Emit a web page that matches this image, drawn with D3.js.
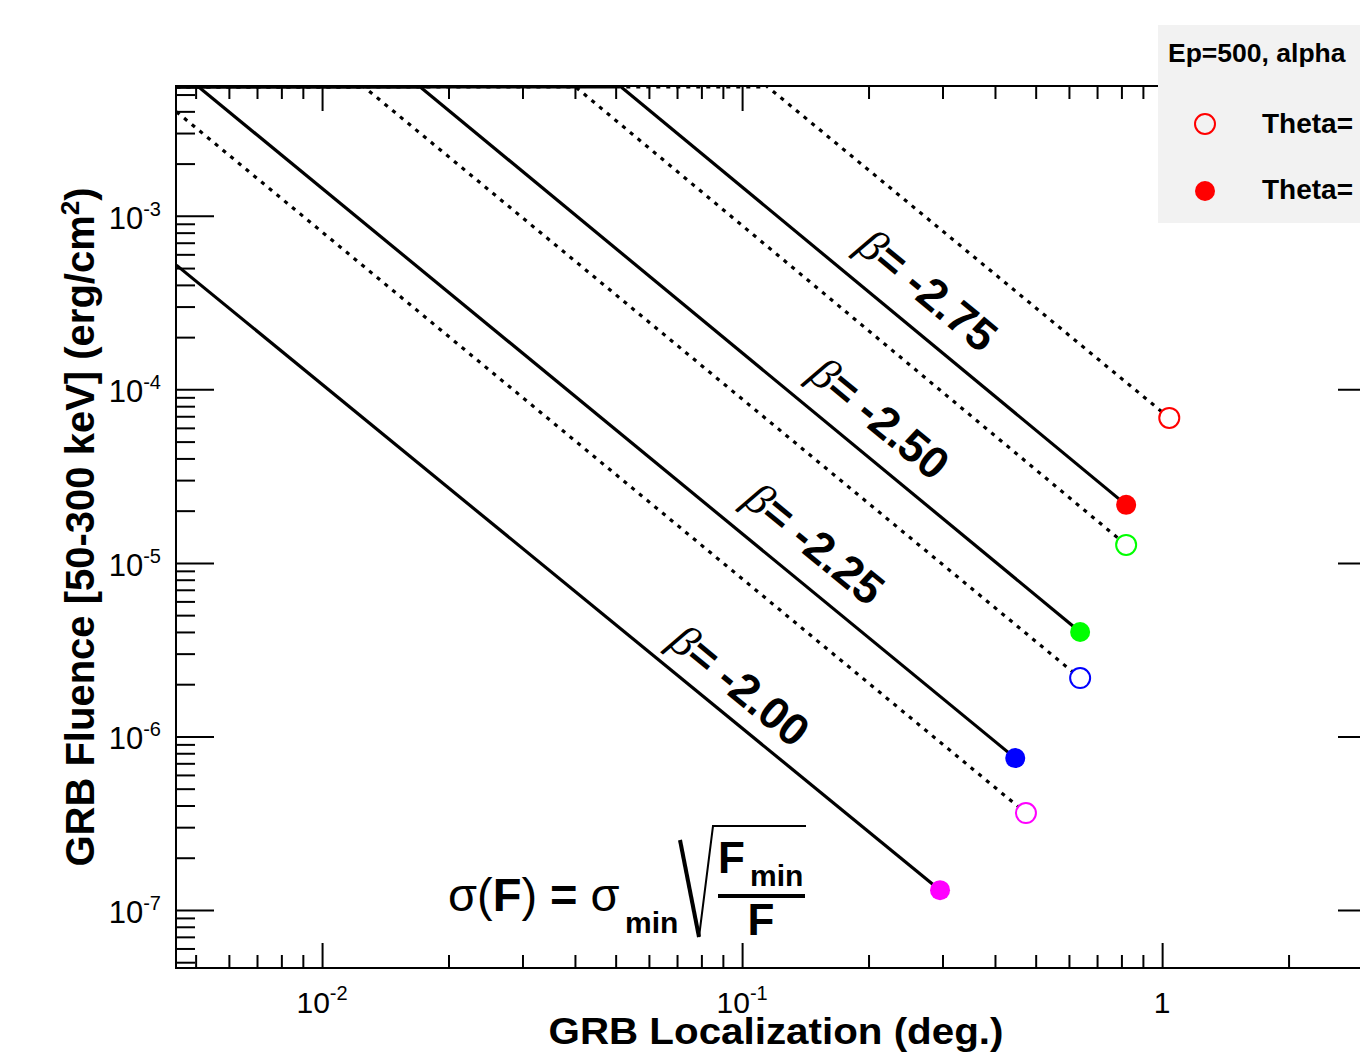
<!DOCTYPE html>
<html>
<head>
<meta charset="utf-8">
<script src="https://cdn.jsdelivr.net/npm/d3@7"></script>
<style>
body { margin: 0; background: #fff; }
svg { display: block; font-family: "Liberation Sans", Arial, Helvetica, sans-serif; }
</style>
</head>
<body>
<div class="container"></div>
<script>
// beta values, one colour per curve pair
var betaLabels = ['-2.00', '-2.25', '-2.50', '-2.75'];
var colours = ['#ff00ff', '#0000ff', '#00ff00', '#ff0000'];

// solid curves (filled markers): localization (deg) and fluence (erg/cm2), start -> end
var solidLoc = [[0.0045, 0.296], [0.0045, 0.447], [0.0045, 0.638], [0.0045, 0.821]];
var solidFlu = [[5.2e-4, 1.30e-7], [7.05e-3, 7.5e-7], [8.0e-2, 4.0e-6], [7.3e-1, 2.16e-5]];

// dotted curves (open markers)
var dottedLoc = [[0.0045, 0.474], [0.0045, 0.638], [0.0045, 0.821], [0.053, 1.04]];
var dottedFlu = [[3.98e-3, 3.62e-7], [4.32e-2, 2.17e-6], [4.53e-1, 1.27e-5], [2.6e-2, 6.85e-5]];

// where the beta labels sit
var labelLoc = [0.0989, 0.149, 0.213, 0.277];
var labelFlu = [1.98e-6, 1.30e-5, 6.85e-5, 3.75e-4];

// major ticks and their labels (base, exponent)
var xMajor = [0.01, 0.1, 1];
var xMajorLabels = [['10', '-2'], ['10', '-1'], ['1', '']];
var yMajor = [1e-7, 1e-6, 1e-5, 1e-4, 1e-3];
var yMajorLabels = [['10', '-7'], ['10', '-6'], ['10', '-5'], ['10', '-4'], ['10', '-3']];

var legendTitle = 'Ep=500, alpha';
var legendEntries = ['Theta=', 'Theta='];

var width = 1360, height = 1053;
var pLeft = 176, pRight = 1376, pTop = 86, pBottom = 968;

var x = d3.scaleLog().domain([0.00449, 3.23]).range([pLeft, pRight]);
var y = d3.scaleLog().domain([4.63e-8, 5.6e-3]).range([pBottom, pTop]);

var svg = d3.select('.container').append('svg')
    .attr('width', width).attr('height', height);

svg.append('defs').append('clipPath').attr('id', 'plot')
    .append('rect').attr('x', pLeft).attr('y', pTop)
    .attr('width', pRight - pLeft).attr('height', pBottom - pTop);

// minor ticks = every 1..9 multiple that is not a decade
function isMajor(list, v) {
    return list.some(function (m) { return Math.abs(v / m - 1) < 1e-6; });
}
var xMinor = x.ticks().filter(function (v) { return !isMajor(xMajor, v); });
var yMinor = y.ticks().filter(function (v) { return !isMajor(yMajor, v); });

function ticks(axis, pos, values, size) {
    svg.append('g')
        .attr('transform', pos)
        .call(axis.tickValues(values).tickSize(size).tickFormat(''))
        .call(function (g) { g.select('.domain').remove(); })
        .selectAll('line').attr('stroke', '#000').attr('stroke-width', 2);
}

ticks(d3.axisBottom(x), 'translate(0,' + pBottom + ')', xMinor, -13);
ticks(d3.axisBottom(x), 'translate(0,' + pBottom + ')', xMajor, -25);
ticks(d3.axisTop(x), 'translate(0,' + pTop + ')', xMinor, -13);
ticks(d3.axisTop(x), 'translate(0,' + pTop + ')', xMajor, -25);
ticks(d3.axisLeft(y), 'translate(' + pLeft + ',0)', yMinor, -19);
ticks(d3.axisLeft(y), 'translate(' + pLeft + ',0)', yMajor, -38);
ticks(d3.axisRight(y), 'translate(' + pRight + ',0)', yMajor, -38);

// frame
svg.append('rect')
    .attr('x', pLeft).attr('y', pTop)
    .attr('width', pRight - pLeft).attr('height', pBottom - pTop)
    .attr('fill', 'none').attr('stroke', '#000').attr('stroke-width', 2);

// tick labels
xMajor.forEach(function (v, i) {
    var t = svg.append('text')
        .attr('x', x(v)).attr('y', 1013)
        .attr('text-anchor', 'middle')
        .attr('font-size', 30);
    t.append('tspan').text(xMajorLabels[i][0]);
    if (xMajorLabels[i][1]) {
        t.append('tspan').attr('dy', -13).attr('font-size', 20).text(xMajorLabels[i][1]);
    }
});

yMajor.forEach(function (v, i) {
    var t = svg.append('text')
        .attr('x', 161).attr('y', y(v) + 13)
        .attr('text-anchor', 'end')
        .attr('font-size', 31);
    t.append('tspan').text(yMajorLabels[i][0]);
    t.append('tspan').attr('dy', -13).attr('font-size', 20).text(yMajorLabels[i][1]);
});

// axis titles
svg.append('text')
    .attr('x', 776).attr('y', 1044)
    .attr('text-anchor', 'middle')
    .attr('font-size', 36).attr('font-weight', 'bold')
    .attr('textLength', 455).attr('lengthAdjust', 'spacingAndGlyphs')
    .text('GRB Localization (deg.)');

var yt = svg.append('text')
    .attr('transform', 'translate(94,527) rotate(-90)')
    .attr('text-anchor', 'middle')
    .attr('font-size', 40).attr('font-weight', 'bold');
yt.append('tspan').text('GRB Fluence [50-300 keV] (erg/cm');
yt.append('tspan').attr('dy', -15).attr('font-size', 26).text('2');
yt.append('tspan').attr('dy', 15).text(')');

// curves
var plot = svg.append('g').attr('clip-path', 'url(#plot)');

function drawCurve(loc, flu, dash) {
    var x0 = x(loc[0]), y0 = y(flu[0]), x1 = x(loc[1]), y1 = y(flu[1]);
    plot.append('path')
        .datum([[loc[0], flu[0]], [loc[1], flu[1]]])
        .attr('d', d3.line().x(function (d) { return x(d[0]); }).y(function (d) { return y(d[1]); }))
        .attr('fill', 'none').attr('stroke', '#000').attr('stroke-width', 3.2)
        .attr('stroke-dasharray', dash);
    // part above the frame is pinned on the top edge
    if (y0 < pTop) {
        var xc = x0 + (pTop - y0) / (y1 - y0) * (x1 - x0);
        plot.append('line')
            .attr('x1', Math.max(x0, pLeft)).attr('x2', xc)
            .attr('y1', pTop + 1).attr('y2', pTop + 1)
            .attr('stroke', '#000').attr('stroke-width', 3)
            .attr('stroke-dasharray', dash);
    }
}

solidLoc.forEach(function (loc, i) { drawCurve(loc, solidFlu[i], null); });
dottedLoc.forEach(function (loc, i) { drawCurve(loc, dottedFlu[i], '4,6'); });

// end markers
dottedLoc.forEach(function (loc, i) {
    svg.append('circle')
        .attr('cx', x(loc[1])).attr('cy', y(dottedFlu[i][1])).attr('r', 10)
        .attr('fill', '#fff').attr('stroke', colours[i]).attr('stroke-width', 2);
});
solidLoc.forEach(function (loc, i) {
    svg.append('circle')
        .attr('cx', x(loc[1])).attr('cy', y(solidFlu[i][1])).attr('r', 10)
        .attr('fill', colours[i]);
});

// beta labels, turned along the solid curves
betaLabels.forEach(function (b, i) {
    var loc = solidLoc[i], flu = solidFlu[i];
    var angle = Math.atan2(y(flu[1]) - y(flu[0]), x(loc[1]) - x(loc[0])) * 180 / Math.PI;
    var t = svg.append('text')
        .attr('transform', 'translate(' + x(labelLoc[i]) + ',' + y(labelFlu[i]) + ') rotate(' + angle + ')')
        .attr('text-anchor', 'middle').attr('dy', '0.35em')
        .attr('font-size', 45);
    t.append('tspan').attr('font-family', '"Liberation Serif", serif').attr('font-style', 'italic').text('β');
    t.append('tspan').attr('font-weight', 'bold').text('= ' + b);
});

// formula
var eq = svg.append('g');
var e1 = eq.append('text').attr('x', 448).attr('y', 911).attr('font-size', 47);
e1.append('tspan').text('σ(');
e1.append('tspan').attr('font-weight', 'bold').text('F');
e1.append('tspan').text(') ');
e1.append('tspan').attr('font-weight', 'bold').text('=');
e1.append('tspan').text(' σ');
eq.append('text').attr('x', 625).attr('y', 933).attr('font-size', 30).attr('font-weight', 'bold').text('min');
eq.append('path').attr('d', 'M680,840 L699,937').attr('stroke', '#000').attr('stroke-width', 4);
eq.append('path').attr('d', 'M699,937 L713,826 L806,826')
    .attr('fill', 'none').attr('stroke', '#000').attr('stroke-width', 2);
eq.append('text').attr('x', 718).attr('y', 873).attr('font-size', 44).attr('font-weight', 'bold').text('F');
eq.append('text').attr('x', 750).attr('y', 886).attr('font-size', 30).attr('font-weight', 'bold').text('min');
eq.append('line').attr('x1', 718).attr('x2', 805).attr('y1', 896).attr('y2', 896)
    .attr('stroke', '#000').attr('stroke-width', 4);
eq.append('text').attr('x', 761).attr('y', 935).attr('text-anchor', 'middle')
    .attr('font-size', 44).attr('font-weight', 'bold').text('F');

// legend (runs past the right edge)
var lg = svg.append('g');
lg.append('rect').attr('x', 1158).attr('y', 25).attr('width', 300).attr('height', 198).attr('fill', '#f2f2f2');
lg.append('text').attr('x', 1168).attr('y', 62).attr('font-size', 26.5).attr('font-weight', 'bold').text(legendTitle);
lg.append('circle').attr('cx', 1205).attr('cy', 124).attr('r', 10)
    .attr('fill', 'none').attr('stroke', colours[3]).attr('stroke-width', 2);
lg.append('circle').attr('cx', 1205).attr('cy', 191).attr('r', 10).attr('fill', colours[3]);
legendEntries.forEach(function (s, i) {
    lg.append('text').attr('x', 1262).attr('y', 133 + i * 66)
        .attr('font-size', 28).attr('font-weight', 'bold').text(s);
});
</script>
</body>
</html>
